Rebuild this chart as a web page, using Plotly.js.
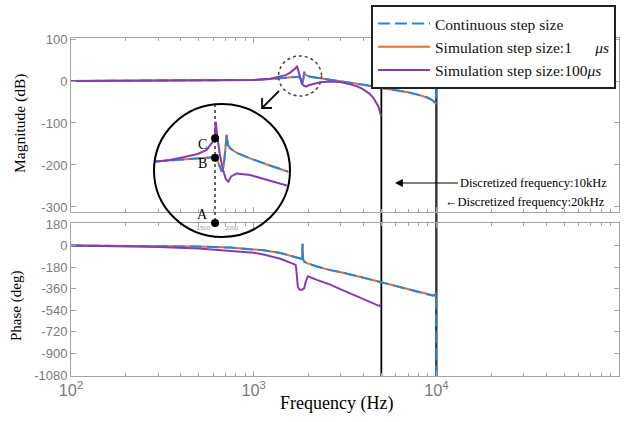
<!DOCTYPE html>
<html>
<head>
<meta charset="utf-8">
<script src="https://cdn.plot.ly/plotly-3.0.1.min.js"></script>
<style>html,body{margin:0;padding:0;background:#fff;}#chart{width:629px;height:422px;}</style>
</head>
<body>
<div id="chart"></div>
<script>
// ---------- data ----------
// Magnitude (dB)
const contMagFreq = [100, 300, 600, 1000, 1230, 1400, 1600, 1750, 1790, 1815, 1836, 1855, 1875, 1891, 1910, 1940, 2040, 2314, 2624, 2979, 3400, 4000, 4935, 6000, 7000, 8000, 9000, 9600, 9900, 10000];
const contMagDb   = [0, 0.5, 1.2, 2.5, 4.5, 7, 10, 10, 8, 3, -8, -3, 8, 22, 17, 14, 10, 6.5, 2.5, 0, -4, -9, -16, -22, -27, -33, -40, -47, -52, -20];
const sim1MagFreq = [100, 300, 600, 1000, 1230, 1400, 1600, 1750, 1790, 1815, 1836, 1855, 1875, 1891, 1910, 1940, 2040, 2314, 2624, 2979, 3400, 4000, 4935, 6000, 7000, 8000, 9000, 9600, 9900, 10000];
const sim1MagDb   = [0, 0.5, 1.2, 2.5, 4.5, 7, 10, 10, 8, 3, -8, -3, 8, 22, 17, 14, 10, 6.5, 2.5, 0, -4, -9, -16, -22, -27, -33, -40, -47, -52, -55];
const sim100MagFreq = [100, 300, 600, 1000, 1230, 1396, 1500, 1585, 1650, 1700, 1725, 1745, 1775, 1810, 1836, 1880, 1940, 2000, 2150, 2314, 2624, 2979, 3380, 3700, 3981, 4300, 4516, 4811, 4975];
const sim100MagDb   = [0, 0.5, 1.2, 2.5, 5.5, 10, 14, 20, 26, 31, 36, 28, 15, 0, -5.5, -11, -13.5, -10, -6, -3, -1, -2.4, -8, -13, -20, -30, -40, -60, -83];

// Phase (deg)
const contPhaseFreq = [100, 200, 300, 500, 743, 1000, 1132, 1400, 1585, 1700, 1782, 1820, 1840, 1852, 1864, 1891, 1956, 2218, 2624, 3000, 4000, 5000, 6000, 7000, 8000, 9270, 9600, 9900, 9990, 10000];
const contPhaseDeg  = [0, -3, -5, -9, -17, -30, -40, -62, -83, -95, -105, -110, -100, 15, -115, -133, -147, -175, -205, -222, -268, -306, -337, -364, -388, -416, -419, -405, -390, -1088];
const sim1PhaseFreq = [100, 200, 300, 500, 743, 1000, 1132, 1400, 1585, 1700, 1782, 1820, 1840, 1852, 1864, 1891, 1956, 2218, 2624, 3000, 4000, 5000, 6000, 7000, 8000, 9270, 9600, 9900, 9990];
const sim1PhaseDeg  = [0, -3, -5, -9, -17, -30, -40, -62, -83, -95, -105, -110, -100, 15, -115, -133, -147, -175, -205, -222, -268, -306, -337, -364, -388, -416, -419, -421, -422];
const sim100PhaseFreq = [100, 200, 300, 500, 743, 1000, 1132, 1400, 1585, 1698, 1712, 1725, 1745, 1780, 1815, 1860, 1891, 1930, 1980, 2218, 2624, 2979, 3500, 4000, 4500, 4887, 4975];
const sim100PhaseDeg  = [0, -6, -12, -25, -45, -60, -75, -110, -142, -161, -200, -300, -345, -365, -370, -365, -355, -300, -256, -286, -326, -364, -410, -450, -482, -505, -485];

// Magnified inset (linear frequency, magnified magnitude)
const insetContFreq = [647, 900, 1147, 1400, 1677, 1740, 1790, 1825, 1860, 1895, 1913, 1935, 1972, 2100, 2325, 2700, 3002];
const insetContVal  = [8.9, 9.7, 10.5, 11.2, 11.8, 10.5, 6, 2.2, 6, 18, 26.7, 20, 17.8, 14.5, 11.1, 6, 2.2];
const insetSim100Freq = [647, 900, 1147, 1400, 1560, 1666, 1700, 1712, 1719, 1745, 1790, 1850, 1900, 1942, 1990, 2090, 2325, 2600, 2974];
const insetSim100Val  = [8.9, 10, 11.8, 14, 16.7, 22.2, 25, 30, 35.5, 26, 14, 3, -3, -4.5, -1, 1, 0, -3, -7];
const markFreq = 1707;
const markLabels = ['C', 'B', 'A'];
const markVals = [24.5, 11.5, -32];
const insetTickVals = [1500, 2000];
const insetTickText = ['1500', '2000'];

// Nyquist lines
const nyquistFreqs = [5000, 10000];

// Tick labels
const magTickVals = [100, 0, -100, -200, -300];
const magTickText = ['100', '0', '-100', '-200', '-300'];
const phaseTickVals = [180, 0, -180, -360, -540, -720, -900, -1080];
const phaseTickText = ['180', '0', '-180', '-360', '-540', '-720', '-900', '-1080'];

const legendNames = ['Continuous step size',
  'Simulation step size:1\u00a0\u00a0\u00a0\u00a0\u00a0\u00a0<i>\u03bcs</i>',
  'Simulation step size:100<i>\u03bcs</i>'];

// ---------- styling ----------
const BLUE = '#2189dc', ORANGE = '#ee6a2b', PURPLE = '#8b3aae';
const AXC = '#a3a3a3', TXC = '#7a7a7a';
const SERIF = 'Liberation Serif, Times New Roman, serif';
const SANS = 'Liberation Sans, Arial, sans-serif';
const W = 629, H = 422, ML = 71, MR = 10, MT = 38, MB = 46;
const PW = W - ML - MR, PH = H - MT - MB;
const px = x => (x - ML) / PW;
const py = y => (H - MB - y) / PH;

const dashBlue = '12px,5px';

const traces = [
  {x: sim1MagFreq, y: sim1MagDb, xaxis: 'x', yaxis: 'y', mode: 'lines', name: legendNames[1], legendrank: 2,
   line: {color: ORANGE, width: 2}},
  {x: contMagFreq, y: contMagDb, xaxis: 'x', yaxis: 'y', mode: 'lines', name: legendNames[0], legendrank: 1,
   line: {color: BLUE, width: 2, dash: dashBlue}},
  {x: sim100MagFreq, y: sim100MagDb, xaxis: 'x', yaxis: 'y', mode: 'lines', name: legendNames[2], legendrank: 3,
   line: {color: PURPLE, width: 2}},

  {x: sim1PhaseFreq, y: sim1PhaseDeg, xaxis: 'x2', yaxis: 'y2', mode: 'lines', showlegend: false,
   line: {color: ORANGE, width: 2}},
  {x: contPhaseFreq, y: contPhaseDeg, xaxis: 'x2', yaxis: 'y2', mode: 'lines', showlegend: false,
   line: {color: BLUE, width: 2, dash: dashBlue}},
  {x: sim100PhaseFreq, y: sim100PhaseDeg, xaxis: 'x2', yaxis: 'y2', mode: 'lines', showlegend: false,
   line: {color: PURPLE, width: 2}},

  // inset
  {x: [markFreq, markFreq], y: [47.3, markVals[2]], xaxis: 'x3', yaxis: 'y3', mode: 'lines', showlegend: false,
   line: {color: '#333', width: 1.5, dash: 'dot'}},
  {x: insetContFreq, y: insetContVal, xaxis: 'x3', yaxis: 'y3', mode: 'lines', showlegend: false,
   line: {color: ORANGE, width: 2}},
  {x: insetContFreq, y: insetContVal, xaxis: 'x3', yaxis: 'y3', mode: 'lines', showlegend: false,
   line: {color: BLUE, width: 2, dash: dashBlue}},
  {x: insetSim100Freq, y: insetSim100Val, xaxis: 'x3', yaxis: 'y3', mode: 'lines', showlegend: false,
   line: {color: PURPLE, width: 2}},
  {x: markVals.map(() => markFreq), y: markVals, xaxis: 'x3', yaxis: 'y3', mode: 'markers', showlegend: false,
   cliponaxis: false, marker: {color: '#000', size: 8}}
];

const logAxis = {
  type: 'log', range: [2, 5], dtick: 1, exponentformat: 'power', showexponent: 'all',
  showline: true, linecolor: AXC, linewidth: 1, mirror: 'ticks', ticks: 'inside', ticklen: 5, tickcolor: AXC,
  showgrid: false, zeroline: false, tickfont: {family: SANS, size: 13, color: TXC},
  minor: {ticks: 'inside', ticklen: 3, tickcolor: AXC, dtick: 'D1', showgrid: false}
};

const annotations = [
  {xref: 'paper', yref: 'paper', x: px(19.5), y: py(123.5), xanchor: 'center', yanchor: 'middle',
   text: 'Magnitude (dB)', textangle: -90, showarrow: false,
   font: {family: SERIF, size: 15.5, color: '#000'}},
  {xref: 'paper', yref: 'paper', x: px(16.5), y: py(306.5), xanchor: 'center', yanchor: 'middle',
   text: 'Phase (deg)', textangle: -90, showarrow: false,
   font: {family: SERIF, size: 15, color: '#000'}},
  {xref: 'paper', yref: 'paper', x: px(336), y: py(403), xanchor: 'center', yanchor: 'middle',
   text: 'Frequency (Hz)', showarrow: false,
   font: {family: SERIF, size: 18, color: '#000'}},
  {xref: 'paper', yref: 'paper', x: px(395), y: py(183), ax: 138, ay: 0, text: 'Discretized frequency:10kHz',
   showarrow: true, arrowhead: 2, arrowsize: 1.3, arrowwidth: 1.2, arrowcolor: '#000',
   font: {family: SERIF, size: 12.5, color: '#000'}},
  {xref: 'paper', yref: 'paper', x: px(607), y: py(202), xanchor: 'right', yanchor: 'middle',
   text: '\u2190Discretized frequency:20kHz',
   showarrow: false, font: {family: SERIF, size: 12.5, color: '#000'}}
];
markLabels.forEach((t, i) => {
  annotations.push({xref: 'x3', yref: 'y3', x: markFreq, y: markVals[i], text: t, showarrow: false,
    xanchor: 'center', yanchor: 'middle',
    xshift: -13, yshift: i === 2 ? 9 : -6, font: {family: SERIF, size: 14, color: '#000'}});
});

const shapes = nyquistFreqs.map((f, i) => ({
  type: 'line', xref: 'x', yref: 'paper', x0: f, x1: f, y0: 0, y1: py(74), layer: 'below',
  line: {color: i === 0 ? '#000' : '#333', width: i === 0 ? 1.8 : 2.4}
}));
shapes.push({type: 'circle', xref: 'paper', yref: 'paper', x0: px(278.5), x1: px(321.5), y0: py(96), y1: py(56),
  line: {color: '#444', width: 1.5, dash: 'dot'}});
shapes.push({type: 'circle', xref: 'paper', yref: 'paper', x0: px(154), x1: px(290), y0: py(237), y1: py(104),
  line: {color: '#000', width: 2}});
// pointer arrow from the small dotted circle to the magnified view
const arrowPath = 'M' + px(279) + ',' + py(91) + ' L' + px(262) + ',' + py(108) +
  ' M' + px(262) + ',' + py(98) + ' L' + px(262) + ',' + py(108) + ' L' + px(272) + ',' + py(108);
shapes.push({type: 'path', xref: 'paper', yref: 'paper', path: arrowPath, line: {color: '#111', width: 1.8}});

const layout = {
  width: W, height: H, margin: {l: ML, r: MR, t: MT, b: MB, autoexpand: false},
  paper_bgcolor: '#fff', plot_bgcolor: 'rgba(0,0,0,0)',
  xaxis: Object.assign({}, logAxis, {domain: [0, 1], anchor: 'y', showticklabels: false}),
  yaxis: {domain: [py(212), 1], range: [-312, 102.4], tickvals: magTickVals, ticktext: magTickText, anchor: 'x',
    showline: true, linecolor: AXC, mirror: 'ticks', ticks: 'inside', ticklen: 5, tickcolor: AXC,
    showgrid: false, zeroline: false, tickfont: {family: SANS, size: 13, color: TXC}},
  xaxis2: Object.assign({}, logAxis, {domain: [0, 1], anchor: 'y2'}),
  yaxis2: {domain: [0, py(223)], range: [-1088, 188], tickvals: phaseTickVals, ticktext: phaseTickText, anchor: 'x2',
    showline: true, linecolor: AXC, mirror: 'ticks', ticks: 'inside', ticklen: 5, tickcolor: AXC,
    showgrid: false, zeroline: false, tickfont: {family: SANS, size: 13, color: TXC}},
  xaxis3: {domain: [px(154), px(290)], range: [629, 3030], anchor: 'y3', showline: false, ticks: '',
    tickvals: insetTickVals, ticktext: insetTickText, showgrid: false, zeroline: false,
    tickfont: {family: SANS, size: 6, color: '#999'}},
  yaxis3: {domain: [py(223), py(104)], range: [-32, 47.3], anchor: 'x3', visible: false},
  showlegend: true,
  legend: {x: px(371), y: py(5), xanchor: 'left', yanchor: 'top', bgcolor: '#fff', bordercolor: '#222',
    borderwidth: 2, itemwidth: 52, font: {family: SERIF, size: 15.5, color: '#111'}, tracegroupgap: 0},
  annotations: annotations,
  shapes: shapes
};

Plotly.newPlot('chart', traces, layout, {staticPlot: true});
</script>
</body>
</html>
